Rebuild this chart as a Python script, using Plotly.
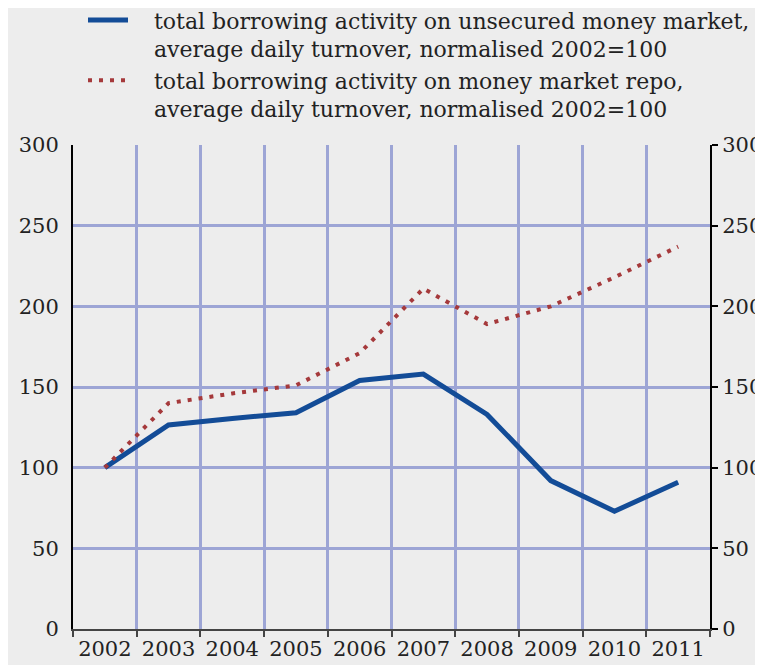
import plotly.graph_objects as go

years = ["2002", "2003", "2004", "2005", "2006", "2007", "2008", "2009", "2010", "2011"]
unsecured = [100, 126.5, 130.5, 134, 154, 158, 133, 92, 73, 91]
repo = [100, 140, 146, 151, 171, 211, 189, 200, 218, 237]

PAD = "&nbsp;&nbsp;&nbsp;"
name_unsecured = (PAD + "total borrowing activity on unsecured money market,"
                  "<br>" + PAD + "average daily turnover, normalised 2002=100")
name_repo = (PAD + "total borrowing activity on money market repo,"
             "<br>" + PAD + "average daily turnover, normalised 2002=100")

BG = "#EDEDED"
GRID = "#9DA5D5"
FONT = "DejaVu Serif"

fig = go.Figure()
fig.add_trace(go.Scatter(
    x=years, y=unsecured, mode="lines", name=name_unsecured,
    line=dict(color="#134C97", width=5),
))
# same scale as the left axis; drawn against the right one so it gets labels
fig.add_trace(go.Scatter(
    x=years, y=repo, mode="lines", name=name_repo, yaxis="y2",
    line=dict(color="#A5393B", width=4, dash="4px,7px"),
))

# page body adds an 8px margin, so the figure is 8px smaller than the window
fig.update_layout(
    width=755, height=657,
    margin=dict(l=65, r=53, t=137, b=36, autoexpand=False),
    paper_bgcolor=BG, plot_bgcolor=BG,
    font=dict(family=FONT, size=21, color="#222222"),
    showlegend=True,
    legend=dict(
        x=0.0157, y=1.301, xanchor="left", yanchor="top",
        bgcolor="rgba(0,0,0,0)", font=dict(size=22, family=FONT, color="#222222"),
        valign="top", itemwidth=40, tracegroupgap=0,
    ),
    xaxis=dict(
        type="category", tickson="boundaries", ticks="outside", ticklen=6,
        tickcolor="#444444", tickwidth=2, automargin=False,
        showline=True, linecolor="#444444", linewidth=2,
        showgrid=True, gridcolor=GRID, gridwidth=3,
        tickfont=dict(size=21), range=[-0.5, 9.5],
    ),
    yaxis=dict(
        range=[0, 300], dtick=50, tick0=0, automargin=False,
        showline=True, linecolor="black", linewidth=2,
        showgrid=True, gridcolor=GRID, gridwidth=3, zeroline=False,
        ticks="", ticklabelstandoff=8, tickfont=dict(size=21),
    ),
    yaxis2=dict(
        range=[0, 300], dtick=50, tick0=0, overlaying="y", side="right",
        showline=True, linecolor="black", linewidth=2, automargin=False,
        ticks="outside", ticklen=6, tickcolor="black", tickwidth=2,
        showgrid=False, zeroline=False, tickfont=dict(size=21),
    ),
)

fig.write_html("out.html")
